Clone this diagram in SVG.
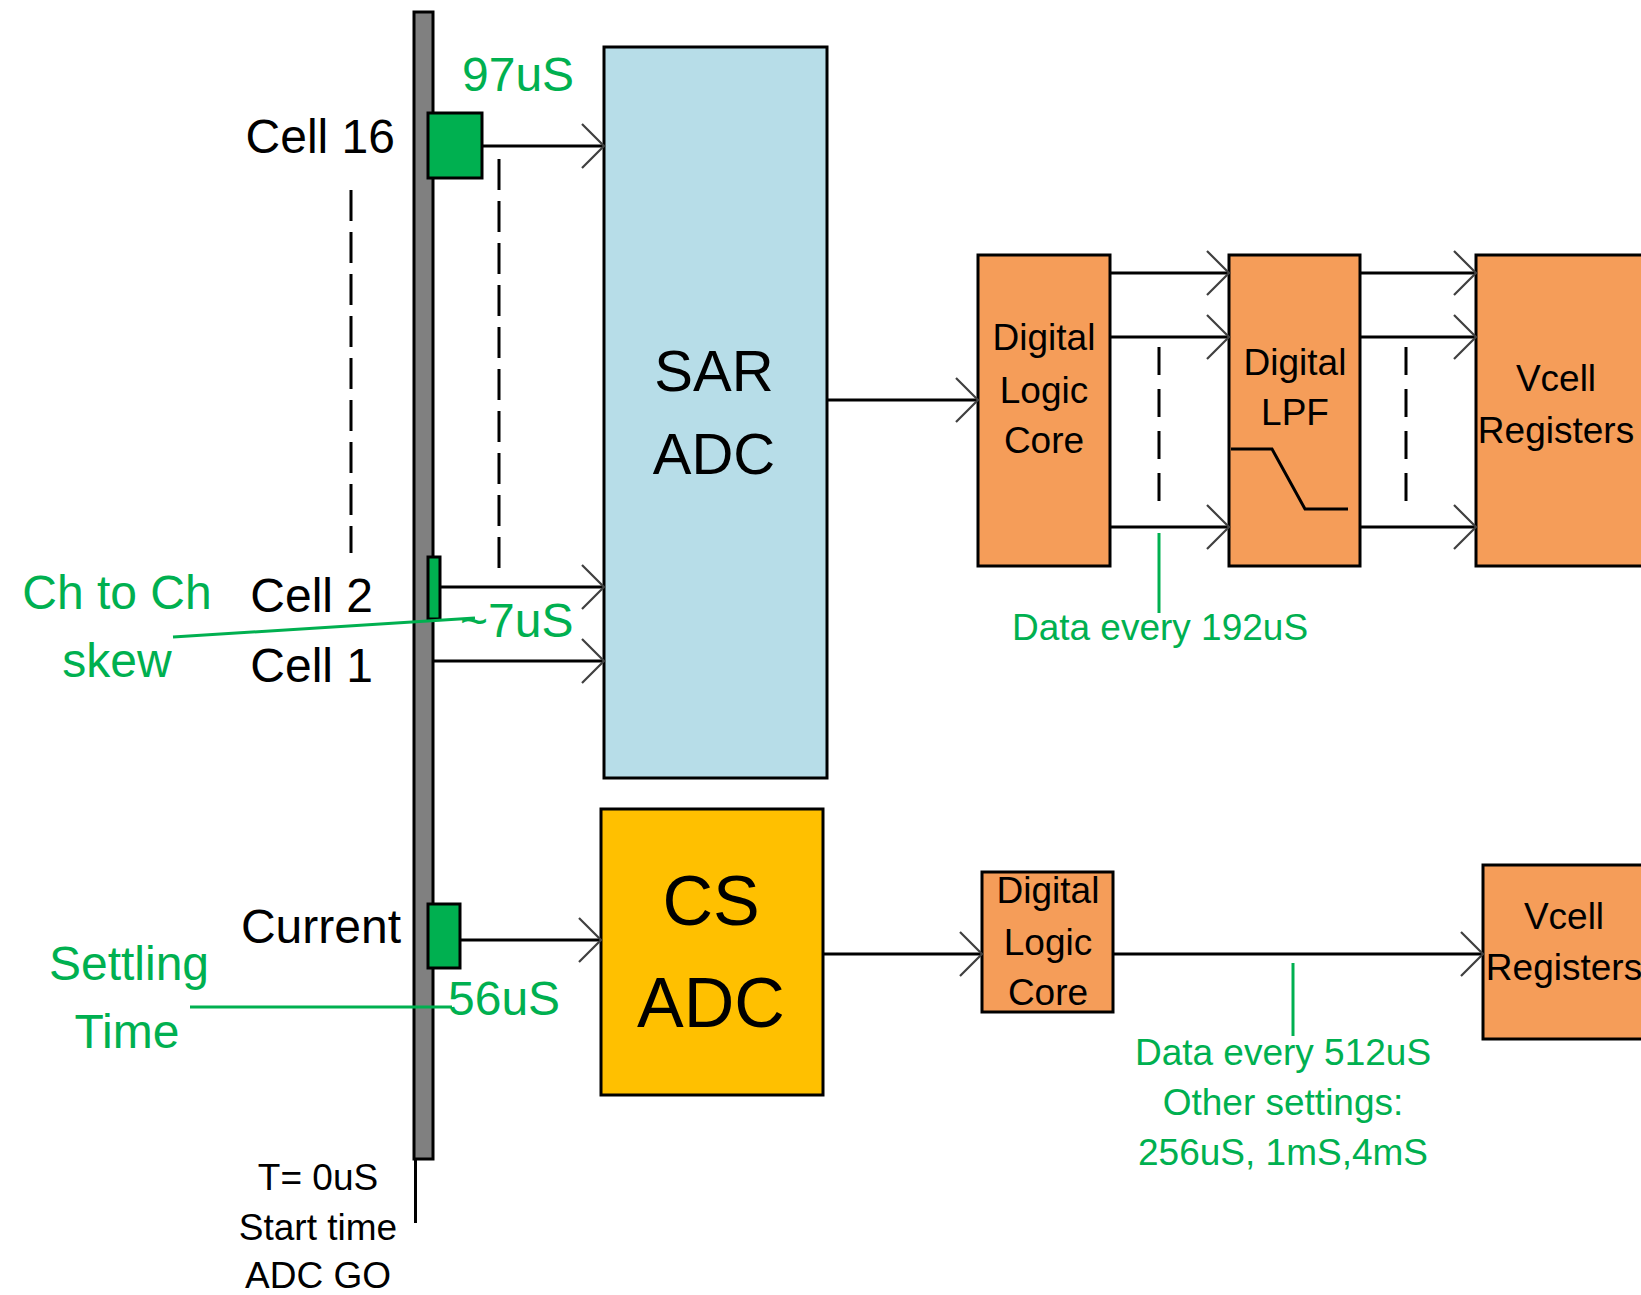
<svg xmlns="http://www.w3.org/2000/svg" width="1641" height="1295" viewBox="0 0 1641 1295">
<style>
text{font-family:"Liberation Sans",Arial,sans-serif;fill:#000}
.lbl{font-size:48px}
.g{fill:#00B050}
.box{stroke:#000;stroke-width:3}
.org{fill:#F59D59}
.bl{font-size:37px;text-anchor:middle}
.ln{stroke:#000;stroke-width:3;fill:none}
.arr{stroke:#000;stroke-width:3;fill:none;marker-end:url(#ah)}
.dash{stroke:#000;stroke-width:3;fill:none}
.gl{stroke:#00B050;stroke-width:3;fill:none}
</style>
<defs>
<marker id="ah" markerUnits="userSpaceOnUse" markerWidth="30" markerHeight="50" refX="24" refY="24" viewBox="0 0 30 48" orient="auto">
<path d="M2 2 L24 24 L2 46" fill="none" stroke="#404040" stroke-width="2.2"/>
</marker>
</defs>
<rect width="1641" height="1295" fill="#fff"/>

<g id="timeline">
<rect x="414" y="12" width="19" height="1147" fill="#808080" stroke="#000" stroke-width="3"/>
<line x1="415.5" y1="1159" x2="415.5" y2="1223" stroke="#000" stroke-width="3"/>
<text x="318" y="1190" font-size="37" text-anchor="middle">T= 0uS</text>
<text x="318" y="1240" font-size="37" text-anchor="middle">Start time</text>
<text x="318" y="1288" font-size="37" text-anchor="middle">ADC GO</text>
</g>

<g id="cell16">
<rect x="428" y="113" width="54" height="65" fill="#00B050" class="box"/>
<text class="lbl" x="395" y="153" text-anchor="end">Cell 16</text>
<text class="lbl g" x="462" y="91">97uS</text>
</g>
<g id="cell2">
<rect x="428" y="557" width="12" height="62" fill="#00B050" class="box"/>
<text class="lbl" x="373" y="612" text-anchor="end">Cell 2</text>
</g>
<g id="cell1">
<text class="lbl" x="373" y="682" text-anchor="end">Cell 1</text>
</g>
<g id="current">
<rect x="428" y="904" width="32" height="64" fill="#00B050" class="box"/>
<text class="lbl" x="401" y="943" text-anchor="end">Current</text>
</g>

<g id="skew-note">
<text class="lbl g" x="117" y="609" text-anchor="middle">Ch to Ch</text>
<text class="lbl g" x="117" y="677" text-anchor="middle">skew</text>
<text class="lbl g" x="460" y="637">~7uS</text>
</g>
<g id="settling-note">
<text class="lbl g" x="129" y="980" text-anchor="middle" font-size="50">Settling</text>
<text class="lbl g" x="127" y="1048" text-anchor="middle">Time</text>
<text class="lbl g" x="448" y="1015">56uS</text>
</g>

<g id="sar-adc">
<rect x="604" y="47" width="223" height="731" fill="#B7DDE8" class="box"/>
<text x="714" y="391" font-size="58" text-anchor="middle">SAR</text>
<text x="714" y="474" font-size="58" text-anchor="middle">ADC</text>
</g>
<g id="cs-adc">
<rect x="601" y="809" width="222" height="286" fill="#FFC000" class="box"/>
<text x="711" y="925" font-size="70" text-anchor="middle">CS</text>
<text x="711" y="1027" font-size="70" text-anchor="middle">ADC</text>
</g>

<g id="dlc1">
<rect x="978" y="255" width="132" height="311" class="box org"/>
<text class="bl" x="1044" y="350">Digital</text>
<text class="bl" x="1044" y="403">Logic</text>
<text class="bl" x="1044" y="453">Core</text>
</g>
<g id="lpf">
<rect x="1229" y="255" width="131" height="311" class="box org"/>
<text class="bl" x="1295" y="375">Digital</text>
<text class="bl" x="1295" y="425">LPF</text>
<polyline points="1231,449 1272,449 1305,509 1348,509" class="ln"/>
</g>
<g id="vcell1">
<rect x="1476" y="255" width="200" height="311" class="box org"/>
<text class="bl" x="1556" y="391">Vcell</text>
<text class="bl" x="1556" y="443">Registers</text>
</g>
<g id="dlc2">
<rect x="982" y="872" width="131" height="140" class="box org"/>
<text class="bl" x="1048" y="903">Digital</text>
<text class="bl" x="1048" y="955">Logic</text>
<text class="bl" x="1048" y="1005">Core</text>
</g>
<g id="vcell2">
<rect x="1483" y="865" width="200" height="174" class="box org"/>
<text class="bl" x="1564" y="929">Vcell</text>
<text class="bl" x="1564" y="980">Registers</text>
</g>

<g id="notes">
<text class="g" x="1160" y="640" font-size="37" text-anchor="middle">Data every 192uS</text>
<text class="g" x="1283" y="1065" font-size="37" text-anchor="middle">Data every 512uS</text>
<text class="g" x="1283" y="1115" font-size="37" text-anchor="middle">Other settings:</text>
<text class="g" x="1283" y="1165" font-size="37" text-anchor="middle">256uS, 1mS,4mS</text>
</g>

<g id="connectors">
<line x1="482" y1="146" x2="604" y2="146" class="arr"/>
<line x1="440" y1="587" x2="604" y2="587" class="arr"/>
<line x1="433" y1="661" x2="604" y2="661" class="arr"/>
<line x1="460" y1="940" x2="601" y2="940" class="arr"/>
<line x1="827" y1="400" x2="978" y2="400" class="arr"/>
<line x1="823" y1="954" x2="982" y2="954" class="arr"/>
<line x1="1110" y1="273" x2="1229" y2="273" class="arr"/>
<line x1="1110" y1="337" x2="1229" y2="337" class="arr"/>
<line x1="1110" y1="527" x2="1229" y2="527" class="arr"/>
<line x1="1360" y1="273" x2="1476" y2="273" class="arr"/>
<line x1="1360" y1="337" x2="1476" y2="337" class="arr"/>
<line x1="1360" y1="527" x2="1476" y2="527" class="arr"/>
<line x1="1113" y1="954" x2="1483" y2="954" class="arr"/>
<line x1="351" y1="190" x2="351" y2="553" class="dash" stroke-dasharray="31 11"/>
<line x1="499" y1="159" x2="499" y2="572" class="dash" stroke-dasharray="31 11"/>
<line x1="1159" y1="347" x2="1159" y2="503" class="dash" stroke-dasharray="28 14"/>
<line x1="1406" y1="347" x2="1406" y2="503" class="dash" stroke-dasharray="28 14"/>
<line x1="173" y1="637" x2="475" y2="618" class="gl"/>
<line x1="190" y1="1007" x2="452" y2="1007" class="gl"/>
<line x1="1159" y1="533" x2="1159" y2="613" class="gl"/>
<line x1="1293" y1="963" x2="1293" y2="1036" class="gl"/>
</g>
</svg>
